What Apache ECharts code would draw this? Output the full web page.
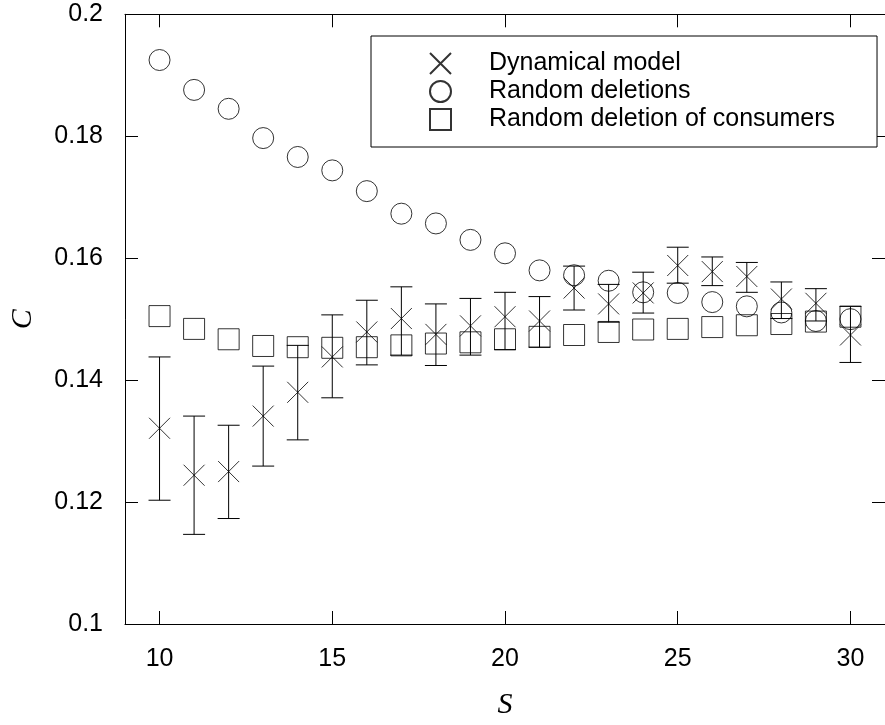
<!DOCTYPE html>
<html>
<head>
<meta charset="utf-8">
<script src="https://cdn.jsdelivr.net/npm/echarts@6/dist/echarts.min.js"></script>
<style>html,body{margin:0;padding:0;background:#fff;}#c{width:885px;height:725px;}</style>
</head>
<body>
<div id="c"></div>
<script>
// ---- data ----
const S = [10,11,12,13,14,15,16,17,18,19,20,21,22,23,24,25,26,27,28,29,30];
const dynamical = [0.1321,0.1244,0.1250,0.1341,0.1380,0.1438,0.1479,0.1501,0.1475,0.1489,0.1504,0.1497,0.1551,0.1525,0.1543,0.1588,0.1578,0.1570,0.1533,0.1526,0.1474];
const dynamicalHigh = [0.1438,0.1341,0.1326,0.1423,0.1457,0.1507,0.1531,0.1553,0.1525,0.1534,0.1544,0.1537,0.1587,0.1557,0.1577,0.1618,0.1602,0.1593,0.1561,0.1550,0.1521];
const dynamicalLow = [0.1203,0.1147,0.1173,0.1259,0.1302,0.1371,0.1425,0.1441,0.1424,0.1441,0.1450,0.1454,0.1515,0.1495,0.1510,0.1559,0.1555,0.1544,0.1501,0.1497,0.1429];
const randomDeletions = [0.1925,0.1876,0.1845,0.1797,0.1766,0.1744,0.1710,0.1673,0.1657,0.1630,0.1608,0.1580,0.1572,0.1563,0.1544,0.1543,0.1528,0.1521,0.1511,0.1497,0.1500];
const consumerDeletions = [0.1505,0.1484,0.1467,0.1456,0.1454,0.1453,0.1454,0.1457,0.1460,0.1462,0.1467,0.1471,0.1474,0.1479,0.1483,0.1484,0.1487,0.1490,0.1492,0.1496,0.1504];
const xTicks = [10,15,20,25,30];
const seriesNames = ['Dynamical model','Random deletions','Random deletion of consumers'];

// ---- chart ----
const crossPath = 'path://M0,0L10,10M10,0L0,10';
const pair = (ys) => S.map((s,i) => [s, ys[i]]);
const markerStyle = {color:'transparent', borderColor:'#000', borderWidth:1};
const tickFont = {fontFamily:'Liberation Sans', fontSize:25, color:'#000'};

const chart = echarts.init(document.getElementById('c'), null, {renderer:'canvas'});
const option = {
  animation:false,
  backgroundColor:'#fff',
  grid:{left:124.3, top:14.3, right:-6, bottom:100},
  xAxis:[{
    type:'value', min:9, max:31, position:'bottom',
    name:'S', nameLocation:'middle', nameGap:66,
    nameTextStyle:{fontFamily:'Liberation Serif', fontStyle:'italic', fontSize:30, color:'#000'},
    axisLine:{show:true, lineStyle:{color:'#000', width:1}},
    axisTick:{show:true, inside:true, length:13, customValues:xTicks, lineStyle:{color:'#000'}},
    axisLabel:Object.assign({margin:23, customValues:xTicks}, tickFont),
    splitLine:{show:false}
  },{
    type:'value', min:9, max:31, position:'top',
    axisLine:{show:true, lineStyle:{color:'#000', width:1}},
    axisTick:{show:true, inside:true, length:13, customValues:xTicks, lineStyle:{color:'#000'}},
    axisLabel:{show:false}, splitLine:{show:false}
  }],
  yAxis:[{
    type:'value', min:0.1, max:0.2, interval:0.02, position:'left',
    name:'C', nameLocation:'middle', nameGap:87, nameRotate:90,
    nameTextStyle:{fontFamily:'Liberation Serif', fontStyle:'italic', fontSize:30, color:'#000'},
    axisLine:{show:true, lineStyle:{color:'#000', width:1}},
    axisTick:{show:true, inside:true, length:13, lineStyle:{color:'#000'}},
    axisLabel:Object.assign({margin:22}, tickFont),
    splitLine:{show:false}
  },{
    type:'value', min:0.1, max:0.2, interval:0.02, position:'right',
    axisLine:{show:true, lineStyle:{color:'#000', width:1}},
    axisTick:{show:true, inside:true, length:13, lineStyle:{color:'#000'}},
    axisLabel:{show:false}, splitLine:{show:false}
  }],
  legend:{
    show:true, orient:'vertical', left:371, top:36,
    padding:[15,42,15,58],
    itemGap:3, itemWidth:21, itemHeight:21,
    borderColor:'#000', borderWidth:1, backgroundColor:'#fff',
    textStyle:{fontFamily:'Liberation Sans', fontSize:25, color:'#000', padding:[0,0,0,33]},
    data:[
      {name:seriesNames[0], icon:crossPath},
      {name:seriesNames[1], icon:'circle'},
      {name:seriesNames[2], icon:'rect'}
    ]
  },
  series:[
    {
      name:'errorbars', type:'custom', xAxisIndex:0, yAxisIndex:0,
      data:S.map((s,i)=>[s, dynamicalLow[i], dynamicalHigh[i]]),
      renderItem:function(params, api){
        const x = api.value(0);
        const lo = api.coord([x, api.value(1)]);
        const hi = api.coord([x, api.value(2)]);
        const hw = 11;
        const st = {stroke:'#000', lineWidth:1};
        return {type:'group', children:[
          {type:'line', shape:{x1:lo[0], y1:lo[1], x2:hi[0], y2:hi[1]}, style:st},
          {type:'line', shape:{x1:lo[0]-hw, y1:lo[1], x2:lo[0]+hw, y2:lo[1]}, style:st},
          {type:'line', shape:{x1:hi[0]-hw, y1:hi[1], x2:hi[0]+hw, y2:hi[1]}, style:st}
        ]};
      },
      z:2
    },
    {name:seriesNames[0], type:'scatter', data:pair(dynamical), symbol:crossPath, symbolSize:21, itemStyle:markerStyle, z:3},
    {name:seriesNames[1], type:'scatter', data:pair(randomDeletions), symbol:'circle', symbolSize:21, itemStyle:markerStyle, z:3},
    {name:seriesNames[2], type:'scatter', data:pair(consumerDeletions), symbol:'rect', symbolSize:21, itemStyle:markerStyle, z:3}
  ]
};
chart.setOption(option);
</script>
</body>
</html>
